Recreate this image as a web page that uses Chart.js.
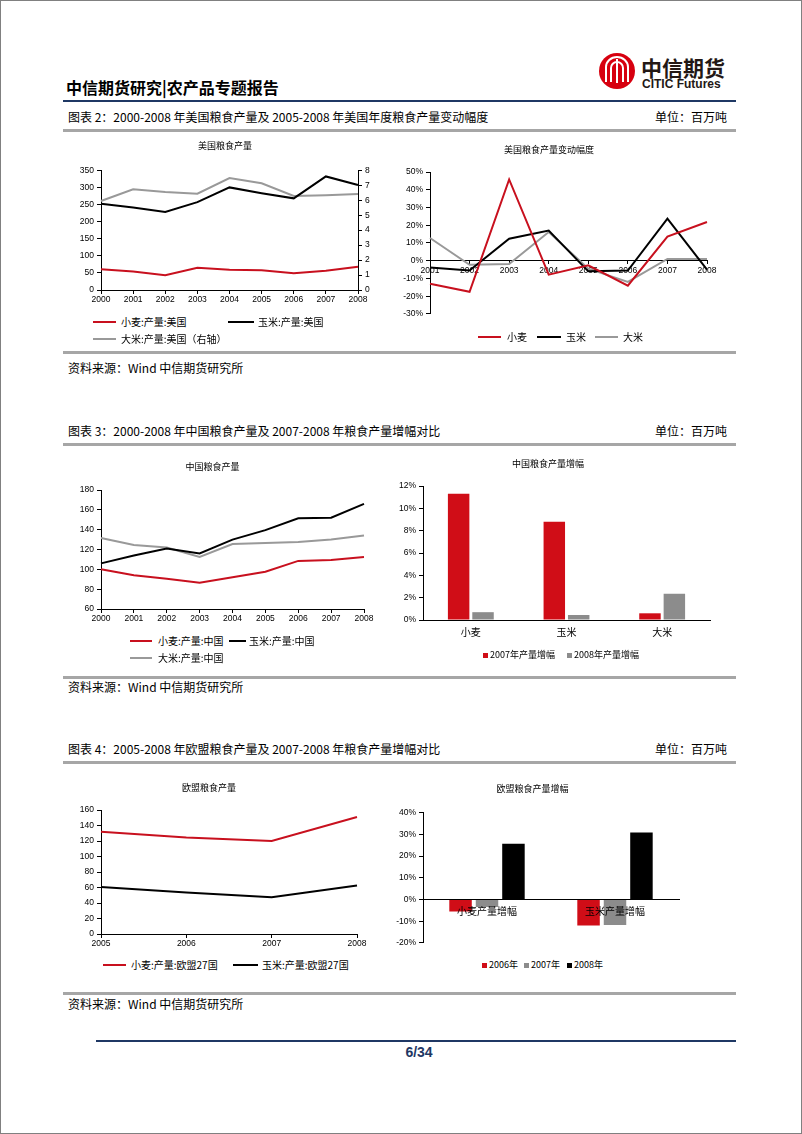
<!doctype html>
<html>
<head>
<meta charset="utf-8">
<title>中信期货研究|农产品专题报告</title>
<script src="https://cdn.jsdelivr.net/npm/chart.js@4"></script>
<style>
  body { margin: 0; background: #fff; }
  #page { position: relative; width: 802px; height: 1134px; box-sizing: border-box; border: 1px solid #808080;
          background: #fff; overflow: hidden; font-family: "Noto Sans CJK SC", sans-serif; color: #000; }
  .t { position: absolute; white-space: nowrap; line-height: 16px; }
  .gray { position: absolute; left: 62px; width: 673px; height: 3px; background: #a6a6a6; }
  canvas { position: absolute; }
  .lg { position: absolute; display: flex; align-items: center; height: 14px; white-space: nowrap; font-size: 10px; line-height: 14px; }
  .lg span:first-child { display: inline-block; flex: none; }
</style>
</head>
<body>
<div id="page">
  <!-- header -->
  <div class="t" style="left:65px;top:76px;font-size:16px;line-height:20px;font-weight:bold;">中信期货研究|农产品专题报告</div>
  <svg style="position:absolute;left:597px;top:51px" width="38" height="38" viewBox="0 0 38 38">
    <circle cx="19" cy="19" r="18" fill="#d7000f"/>
    <path d="M8 30 V15 a11 10 0 0 1 22 0 V30" stroke="#fff" stroke-width="2" fill="none"/>
    <path d="M13 30 V16 a6 6 0 0 1 12 0 V30" stroke="#fff" stroke-width="2" fill="none"/>
    <line x1="19" y1="7" x2="19" y2="31" stroke="#fff" stroke-width="2"/>
  </svg>
  <div class="t" style="left:640px;top:54px;font-size:21px;line-height:24px;font-weight:bold;color:#231815;">中信期货</div>
  <div class="t" style="left:641px;top:76px;font-size:12px;line-height:14px;font-weight:bold;font-family:'Liberation Sans',Arial,sans-serif;color:#231815;">CITIC Futures</div>
  <div style="position:absolute;left:62px;top:99px;width:673px;height:2px;background:#1f3864;"></div>

  <!-- section 2 -->
  <div class="t" style="left:67px;top:108px;font-size:12px;">图表 2：2000-2008 年美国粮食产量及 2005-2008 年美国年度粮食产量变动幅度</div>
  <div class="t" style="right:74px;top:108px;font-size:12px;">单位：百万吨</div>
  <div class="gray" style="top:128px;"></div>
  <canvas id="c1"></canvas>
  <canvas id="c2"></canvas>
  <div class="gray" style="top:350px;"></div>
  <div class="t" style="left:67px;top:359px;font-size:12px;">资料来源：Wind 中信期货研究所</div>

  <!-- section 3 -->
  <div class="t" style="left:67px;top:422px;font-size:12px;">图表 3：2000-2008 年中国粮食产量及 2007-2008 年粮食产量增幅对比</div>
  <div class="t" style="right:74px;top:422px;font-size:12px;">单位：百万吨</div>
  <div class="gray" style="top:442px;"></div>
  <canvas id="c3"></canvas>
  <canvas id="c4"></canvas>
  <div class="gray" style="top:675px;"></div>
  <div class="t" style="left:67px;top:678px;font-size:12px;">资料来源：Wind 中信期货研究所</div>

  <!-- section 4 -->
  <div class="t" style="left:67px;top:740px;font-size:12px;">图表 4：2005-2008 年欧盟粮食产量及 2007-2008 年粮食产量增幅对比</div>
  <div class="t" style="right:74px;top:740px;font-size:12px;">单位：百万吨</div>
  <div class="gray" style="top:760px;"></div>
  <canvas id="c5"></canvas>
  <canvas id="c6"></canvas>
  <div class="gray" style="top:991px;"></div>
  <div class="t" style="left:67px;top:995px;font-size:12px;">资料来源：Wind 中信期货研究所</div>

  <!-- footer -->
  <div style="position:absolute;left:95px;top:1039px;width:640px;height:2px;background:#1f3864;"></div>
  <div class="t" style="left:398px;top:1043px;width:40px;text-align:center;font-size:14px;font-weight:bold;font-family:'Liberation Sans',Arial,sans-serif;color:#1f3864;">6/34</div>
</div>

<script>
// ---- data ----
const usYears   = ['2000', '2001', '2002', '2003', '2004', '2005', '2006', '2007', '2008'];
const usWheat   = [61, 54, 43, 65, 59, 58, 49, 56, 68];
const usCorn    = [252, 241, 228, 257, 300, 283, 268, 332, 307];
const usRice    = [5.95, 6.73, 6.55, 6.44, 7.48, 7.13, 6.28, 6.33, 6.41];   // right axis

const usChgYears = ['2001', '2002', '2003', '2004', '2005', '2006', '2007', '2008'];
const usWheatChg = [-13.0, -17.5, 45.8, -7.9, -2.6, -14.1, 13.6, 21.8];
const usCornChg  = [-3.8, -5.5, 12.4, 17.0, -6.0, -5.6, 23.7, -5.0];
const usRiceChg  = [12.8, -2.3, -1.9, 16.2, -4.5, -12.0, 1.0, 1.0];

const cnYears = ['2000', '2001', '2002', '2003', '2004', '2005', '2006', '2007', '2008'];
const cnWheat = [100, 94, 90.5, 86.5, 92, 97.5, 108.5, 109.5, 112.5];
const cnCorn  = [106, 114, 121, 116, 130, 139.5, 151.5, 152, 166];
const cnRice  = [131.5, 124.5, 122, 112.5, 125.5, 126.5, 127.5, 130, 134];

const cnGrowthCats = ['小麦', '玉米', '大米'];
const cnGrowth2007 = [11.3, 8.8, 0.6];
const cnGrowth2008 = [0.7, 0.45, 2.35];

const euYears = ['2005', '2006', '2007', '2008'];
const euWheat = [132, 124.5, 120, 151];
const euCorn  = [60.5, 53.5, 47.5, 62.5];

const euGrowthCats = ['小麦产量增幅', '玉米产量增幅'];
const euGrowth2006 = [-5.5, -12.0];
const euGrowth2007 = [-3.5, -11.7];
const euGrowth2008 = [25.7, 30.9];

// ---- style ----
const RED = '#c8101e', BLACK = '#000000', GRAY = '#999999';
const BAR_RED = '#d00d17', BAR_GRAY = '#8c8c8c';
const CJK = '"Noto Sans CJK SC", sans-serif';
const TICK_FONT = {family: '"Liberation Sans", Arial, sans-serif', size: 8.5};
const pct = v => v + '%';

Chart.defaults.animation = false;
Chart.defaults.color = '#000';

const page = document.getElementById('page');

function line(label, data, color, yAxisID) {
  return {label, data, borderColor: color, backgroundColor: color, borderWidth: 2,
          pointRadius: 0, tension: 0, fill: false, yAxisID: yAxisID || 'y'};
}

function bar(label, data, color) {
  return {label, data, backgroundColor: color, borderWidth: 0};
}

function yAxis(width, min, max, step, extra) {
  return Object.assign({
    min, max,
    grid: {drawOnChartArea: false, drawTicks: true, tickLength: 4, color: '#000'},
    border: {color: '#000', width: 1},
    ticks: {stepSize: step, font: TICK_FONT, color: '#000', padding: 3},
    afterFit: s => { s.width = width; }
  }, extra || {});
}

function xLine(height) {
  return {
    offset: false,
    grid: {drawOnChartArea: false, drawTicks: true, tickLength: 4, color: '#000'},
    border: {color: '#000', width: 1},
    ticks: {font: TICK_FONT, color: '#000', padding: 1, maxRotation: 0, autoSkip: false},
    afterFit: s => { s.height = height; }
  };
}

function title(text, top, bottom) {
  return {display: true, text, color: '#000',
          font: {family: CJK, size: 9, weight: 'normal', lineHeight: 1.2},
          padding: {top, bottom}};
}

function make(id, rect, config) {
  const cv = document.getElementById(id);
  cv.width = rect.w; cv.height = rect.h;
  cv.style.left = rect.l + 'px'; cv.style.top = rect.t + 'px';
  cv.style.width = rect.w + 'px'; cv.style.height = rect.h + 'px';
  config.options.responsive = false;
  config.options.maintainAspectRatio = false;
  return new Chart(cv.getContext('2d'), config);
}

// html legend built from the chart's own datasets
function legend(chart, spots) {
  chart.data.datasets.forEach((ds, i) => {
    const s = spots[i];
    const item = document.createElement('div');
    item.className = 'lg';
    item.style.left = s.x + 'px';
    item.style.top = (s.y - 7) + 'px';
    item.style.fontSize = (s.size || 10) + 'px';
    const mark = document.createElement('span');
    if (s.sq) {
      mark.style.width = s.sq + 'px'; mark.style.height = s.sq + 'px';
      mark.style.background = ds.backgroundColor;
    } else {
      mark.style.width = s.w + 'px'; mark.style.height = '2px';
      mark.style.background = ds.borderColor;
    }
    mark.style.marginRight = s.gap + 'px';
    const txt = document.createElement('span');
    txt.textContent = ds.label;
    item.append(mark, txt);
    page.appendChild(item);
  });
}

// ---- chart 1: US production ----
const c1 = make('c1', {l: 55, t: 136, w: 338, h: 173}, {
  type: 'line',
  data: {labels: usYears, datasets: [
    line('小麦:产量:美国', usWheat, RED),
    line('玉米:产量:美国', usCorn, BLACK),
    line('大米:产量:美国（右轴）', usRice, GRAY, 'y1')
  ]},
  options: {
    layout: {padding: 0},
    plugins: {legend: {display: false}, tooltip: {enabled: false},
              title: title('美国粮食产量', 3.6, 18.9)},
    scales: {
      x: xLine(20),
      y: yAxis(45, 0, 350, 50, {position: 'left'}),
      y1: yAxis(36, 0, 8, 1, {position: 'right'})
    }
  }
});
legend(c1, [
  {x: 92, y: 321, w: 23, gap: 5},
  {x: 227, y: 321, w: 26, gap: 4},
  {x: 92, y: 338, w: 23, gap: 5}
]);

// ---- chart 2: US yearly change ----
const c2 = make('c2', {l: 390, t: 136, w: 332, h: 185}, {
  type: 'line',
  data: {labels: usChgYears, datasets: [
    line('小麦', usWheatChg, RED),
    line('玉米', usCornChg, BLACK),
    line('大米', usRiceChg, GRAY)
  ]},
  options: {
    layout: {padding: {left: 0, right: 16, top: 0, bottom: 8}},
    plugins: {legend: {display: false}, tooltip: {enabled: false},
              title: title('美国粮食产量变动幅度', 7.6, 16.6)},
    scales: {
      x: {
        position: {y: 0}, offset: false,
        grid: {drawOnChartArea: false, drawTicks: true, tickLength: 3, color: '#000'},
        border: {color: '#000', width: 1},
        ticks: {font: TICK_FONT, color: '#000', padding: 1.5, maxRotation: 0, autoSkip: false}
      },
      y: yAxis(39, -30, 50, 10, {position: 'left'})
    }
  }
});
c2.options.scales.y.ticks.callback = pct;
c2.update();
legend(c2, [
  {x: 477, y: 336, w: 23, gap: 6},
  {x: 536, y: 336, w: 24, gap: 5},
  {x: 594, y: 336, w: 23, gap: 5}
]);

// ---- chart 3: China production ----
const c3 = make('c3', {l: 60, t: 455, w: 328, h: 173}, {
  type: 'line',
  data: {labels: cnYears, datasets: [
    line('小麦:产量:中国', cnWheat, RED),
    line('玉米:产量:中国', cnCorn, BLACK),
    line('大米:产量:中国', cnRice, GRAY)
  ]},
  options: {
    layout: {padding: {left: 0, right: 25, top: 0, bottom: 0}},
    plugins: {legend: {display: false}, tooltip: {enabled: false},
              title: title('中国粮食产量', 5.6, 17.6)},
    scales: {
      x: xLine(20),
      y: yAxis(40, 60, 180, 20, {position: 'left'})
    }
  }
});
legend(c3, [
  {x: 129, y: 640, w: 22, gap: 6},
  {x: 228, y: 640, w: 17, gap: 3},
  {x: 129, y: 657, w: 22, gap: 6}
]);

// ---- chart 4: China growth ----
const c4 = make('c4', {l: 385, t: 452, w: 344, h: 189}, {
  type: 'bar',
  data: {labels: cnGrowthCats, datasets: [
    bar('2007年产量增幅', cnGrowth2007, BAR_RED),
    bar('2008年产量增幅', cnGrowth2008, BAR_GRAY)
  ]},
  options: {
    categoryPercentage: 0.51, barPercentage: 0.88,
    layout: {padding: {left: 0, right: 20, top: 0, bottom: 0}},
    plugins: {legend: {display: false}, tooltip: {enabled: false},
              title: title('中国粮食产量增幅', 5.3, 16.9)},
    scales: {
      x: {
        grid: {drawOnChartArea: false, drawTicks: false},
        border: {color: '#000', width: 1},
        ticks: {font: {family: CJK, size: 10}, color: '#000', padding: 6.4},
        afterFit: s => { s.height = 22; }
      },
      y: yAxis(37, 0, 12, 2, {position: 'left'})
    }
  }
});
c4.options.scales.y.ticks.callback = pct;
c4.update();
legend(c4, [
  {x: 482, y: 654, sq: 5, gap: 2, size: 9},
  {x: 566, y: 654, sq: 5, gap: 2, size: 9}
]);

// ---- chart 5: EU production ----
const c5 = make('c5', {l: 60, t: 775, w: 320, h: 178}, {
  type: 'line',
  data: {labels: euYears, datasets: [
    line('小麦:产量:欧盟27国', euWheat, RED),
    line('玉米:产量:欧盟27国', euCorn, BLACK)
  ]},
  options: {
    layout: {padding: {left: 0, right: 24, top: 0, bottom: 0}},
    plugins: {legend: {display: false}, tooltip: {enabled: false},
              title: title('欧盟粮食产量', 6.3, 16.9)},
    scales: {
      x: xLine(20),
      y: yAxis(40, 0, 160, 20, {position: 'left'})
    }
  }
});
legend(c5, [
  {x: 102, y: 964, w: 23, gap: 5},
  {x: 232, y: 964, w: 25, gap: 4}
]);

// ---- chart 6: EU growth ----
const c6 = make('c6', {l: 385, t: 776, w: 308, h: 174}, {
  type: 'bar',
  data: {labels: euGrowthCats, datasets: [
    bar('2006年', euGrowth2006, BAR_RED),
    bar('2007年', euGrowth2007, BAR_GRAY),
    bar('2008年', euGrowth2008, BLACK)
  ]},
  options: {
    categoryPercentage: 0.62, barPercentage: 0.85,
    layout: {padding: {left: 0, right: 15, top: 0, bottom: 8}},
    plugins: {legend: {display: false}, tooltip: {enabled: false},
              title: title('欧盟粮食产量增幅', 6.6, 18.3)},
    scales: {
      x: {
        position: {y: 0},
        grid: {drawOnChartArea: false, drawTicks: false},
        border: {color: '#000', width: 1, z: 1},
        ticks: {font: {family: CJK, size: 10}, color: '#000', padding: 5.5, z: 1}
      },
      y: yAxis(37, -20, 40, 10, {position: 'left'})
    }
  }
});
c6.options.scales.y.ticks.callback = pct;
c6.update();
legend(c6, [
  {x: 481, y: 964, sq: 5, gap: 2, size: 9},
  {x: 523, y: 964, sq: 5, gap: 2, size: 9},
  {x: 566, y: 964, sq: 5, gap: 2, size: 9}
]);
</script>
</body>
</html>
